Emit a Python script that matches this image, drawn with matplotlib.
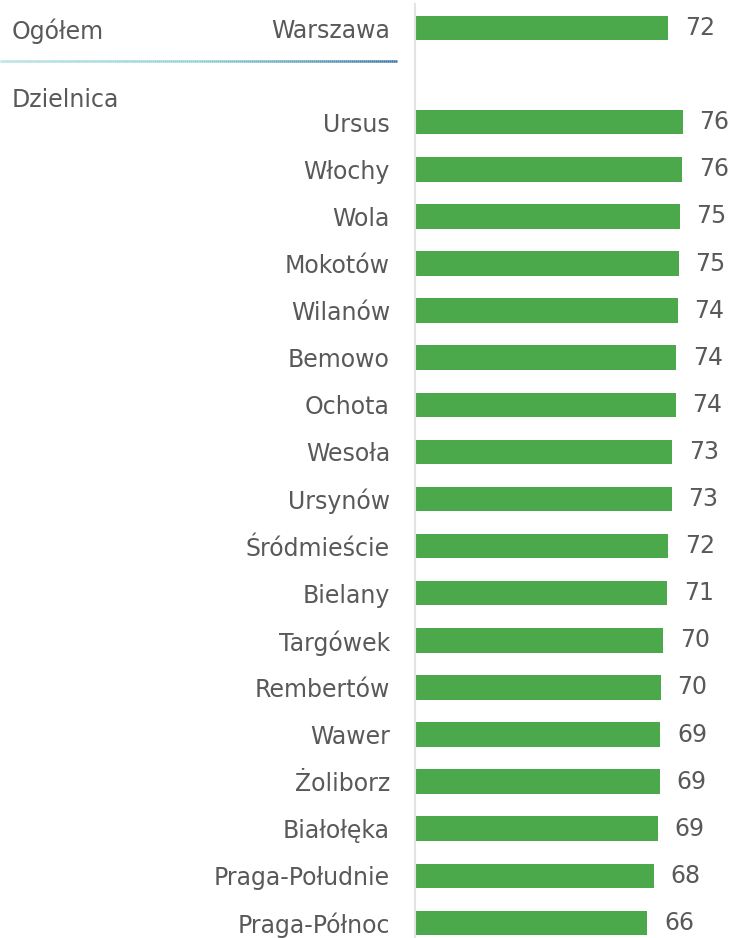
import matplotlib
matplotlib.use("Agg")
import matplotlib.pyplot as plt
import numpy as np
from matplotlib.collections import LineCollection
from matplotlib.colors import LinearSegmentedColormap

overall_label = "Warszawa"
overall_value = 71.7

districts = ["Ursus", "Włochy", "Wola", "Mokotów", "Wilanów", "Bemowo", "Ochota",
             "Wesoła", "Ursynów", "Śródmieście", "Bielany", "Targówek", "Rembertów",
             "Wawer", "Żoliborz", "Białołęka", "Praga-Południe", "Praga-Północ"]
district_values = [75.8, 75.6, 74.9, 74.7, 74.4, 74.0, 73.8,
                   72.8, 72.6, 71.7, 71.4, 70.2, 69.6,
                   69.4, 69.2, 68.8, 67.6, 65.8]

section_labels = ["Ogółem", "Dzielnica"]

BAR = "#4ba84b"
TXT = "#595959"
FONT = "DejaVu Sans"

W, H = 733, 938
fig = plt.figure(figsize=(W / 100, H / 100), dpi=100)
ax_left = 415 / W
ax = fig.add_axes([ax_left, 0, 1 - ax_left, (H - 4.5) / H])

labels = [overall_label] + districts
values = [overall_value] + district_values
positions = [0] + list(range(2, 2 + len(districts)))

ax.barh(positions, values, height=0.52, color=BAR, zorder=2)
ax.set_xlim(0, 90)
ax.set_ylim(19.32, -0.5)

for p, v in zip(positions, values):
    ax.annotate(f"{v:.0f}", xy=(v, p), xytext=(12, 0), textcoords="offset points",
                ha="left", va="center", fontsize=17, color=TXT, family=FONT)

ax.set_yticks(positions)
ax.set_yticklabels(labels, fontsize=17, color=TXT, family=FONT)
ax.tick_params(axis="y", length=0, pad=18)
ax.set_xticks([])
for s in ["top", "right", "bottom"]:
    ax.spines[s].set_visible(False)
ax.spines["left"].set_color("#e3e3e3")
ax.spines["left"].set_linewidth(1.5)

# section headings
fig.text(12 / W, 1 - 31 / H, section_labels[0], fontsize=17, color=TXT, family=FONT,
         ha="left", va="center")
fig.text(12 / W, 1 - 100 / H, section_labels[1], fontsize=17, color=TXT, family=FONT,
         ha="left", va="center")

# gradient separator line
xs = np.linspace(0, 397 / W, 200)
ys = np.full_like(xs, 1 - 61 / H)
pts = np.array([xs, ys]).T.reshape(-1, 1, 2)
segs = np.concatenate([pts[:-1], pts[1:]], axis=1)
cmap = LinearSegmentedColormap.from_list("sep", ["#b4e3e2", "#8fcfd2", "#3a74a4"])
lc = LineCollection(segs, cmap=cmap, linewidths=1.8, transform=fig.transFigure)
lc.set_array(np.linspace(0, 1, len(segs)))
fig.add_artist(lc)

fig.savefig("out.png", dpi=100)
